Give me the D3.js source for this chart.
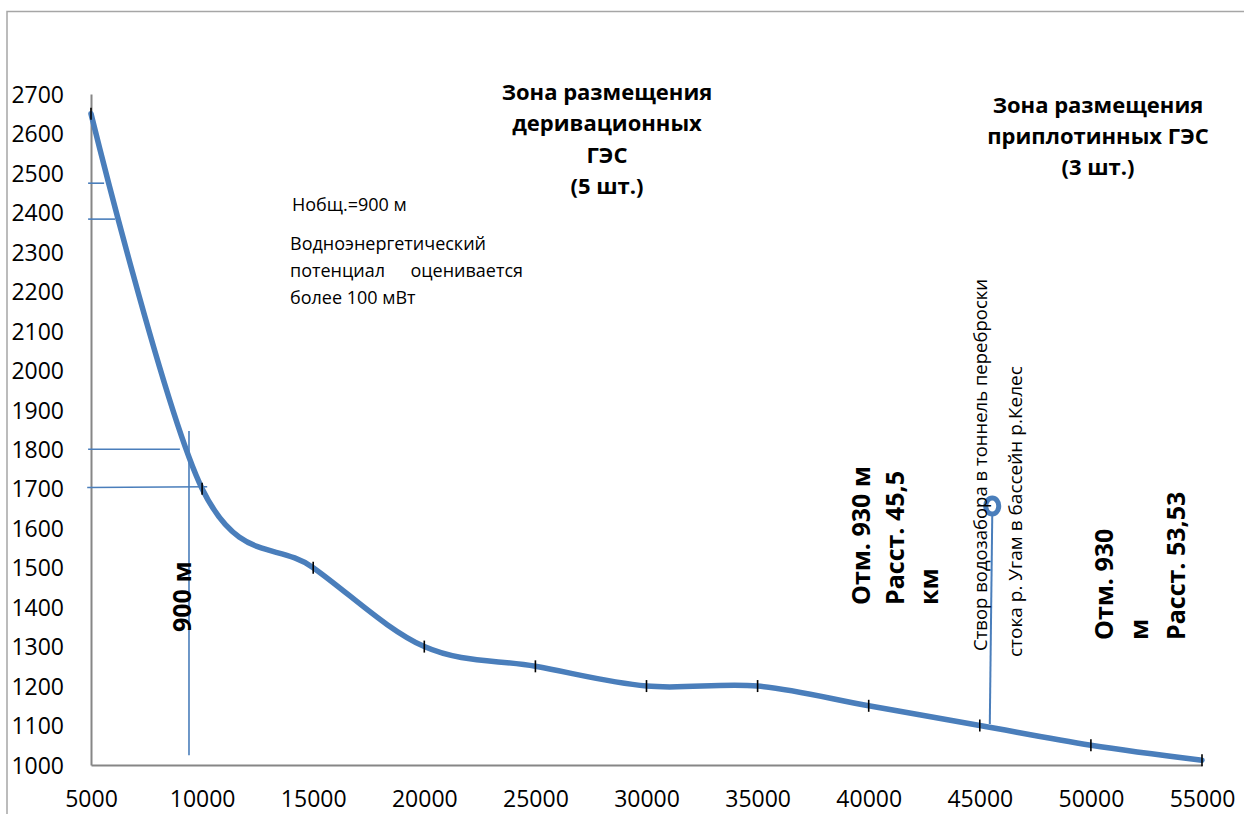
<!DOCTYPE html>
<html>
<head>
<meta charset="utf-8">
<script src="https://cdn.jsdelivr.net/npm/d3@7"></script>
<style>
  html, body { margin: 0; padding: 0; background: #fff; }
  svg { display: block; }
  text { font-family: "Open Sans", "Noto Sans", sans-serif; fill: #000; }
</style>
</head>
<body>
<svg id="chart" width="1244" height="814"></svg>
<script>
// Longitudinal river profile: distance (m) vs elevation (m)
const distance  = [5000, 10000, 15000, 20000, 25000, 30000, 35000, 40000, 45000, 50000, 55000];
const elevation = [2650, 1700, 1500, 1300, 1250, 1200, 1200, 1150, 1100, 1050, 1012];

const xTicks = [5000, 10000, 15000, 20000, 25000, 30000, 35000, 40000, 45000, 50000, 55000];
const yTicks = [1000, 1100, 1200, 1300, 1400, 1500, 1600, 1700, 1800, 1900, 2000,
                2100, 2200, 2300, 2400, 2500, 2600, 2700];

// Head lines: [x1, y1, x2, y2] in data units
const headLines = [
  [4870, 2474, 5590, 2474],
  [4870, 2383, 6080, 2383],
  [4870, 1800, 9000, 1800],
  [4830, 1703, 10230, 1705],
  [9410, 1846, 9410, 1025]
];
// Water intake site (tunnel diversion): marker position and stem end
const intake = { x: 45560, y: 1656, baseX: 45450, baseY: 1104 };

const zoneDerivation = ["Зона размещения", "деривационных", "ГЭС", "(5 шт.)"];
const zoneDam = ["Зона размещения", "приплотинных ГЭС", "(3 шт.)"];
const headLabel = "Нобщ.=900 м";
const potentialLines = ["Водноэнергетический", "более 100 мВт"];
const potentialWords = ["потенциал", "оценивается"];
const markA = ["Отм. 930 м", "Расст. 45,5", "км"];
const markB = ["Отм. 930", "м", "Расст. 53,53"];
const intakeText = ["Створ водозабора в тоннель переброски", "стока р. Угам в бассейн р.Келес"];
const dropLabel = "900 м";

const blue = "#4a7ebb";
const svg = d3.select("#chart");

const x = d3.scaleLinear().domain([5000, 55000]).range([91, 1202]);
const y = d3.scaleLinear().domain([1000, 2700]).range([765, 94]);

// outer chart frame
svg.append("path")
  .attr("d", "M7,814 V11.5 H1244")
  .attr("fill", "none").attr("stroke", "#a6a6a6").attr("stroke-width", 1.5);

// axes
const xAxis = d3.axisBottom(x).tickValues(xTicks).tickSize(0).tickPadding(0).tickFormat(d3.format("d"));
const gx = svg.append("g").attr("transform", `translate(0,${y(1000)})`).call(xAxis);
gx.select(".domain").attr("stroke", "#868686").attr("stroke-width", 2);
gx.selectAll(".tick text").attr("y", 42).attr("dy", 0)
  .style("font-size", "23px").style("font-family", "'Open Sans', sans-serif");

const yAxis = d3.axisLeft(y).tickValues(yTicks).tickSize(0).tickPadding(0).tickFormat(d3.format("d"));
const gy = svg.append("g").attr("transform", `translate(${x(5000)},0)`).call(yAxis);
gy.select(".domain").attr("stroke", "#868686").attr("stroke-width", 2);
gy.selectAll(".tick text").attr("x", -27).attr("dy", "0.36em")
  .style("font-size", "23px").style("font-family", "'Open Sans', sans-serif");

// head reference lines
svg.append("g").selectAll("line").data(headLines).join("line")
  .attr("x1", d => x(d[0])).attr("y1", d => y(d[1]))
  .attr("x2", d => x(d[2])).attr("y2", d => y(d[3]))
  .attr("stroke", blue).attr("stroke-width", 1.6);

// profile curve
const pts = distance.map((d, i) => [d, elevation[i]]);
svg.append("path")
  .datum(pts)
  .attr("d", d3.line().x(d => x(d[0])).y(d => y(d[1])).curve(d3.curveCatmullRom.alpha(0)))
  .attr("fill", "none").attr("stroke", blue).attr("stroke-width", 5.5).attr("stroke-linecap", "round");

// point markers
svg.append("g").selectAll("line").data(pts).join("line")
  .attr("x1", d => x(d[0])).attr("x2", d => x(d[0]))
  .attr("y1", d => y(d[1]) - 6).attr("y2", d => y(d[1]) + 6)
  .attr("stroke", "#000").attr("stroke-width", 1.6);

// intake marker
svg.append("line")
  .attr("x1", x(intake.x)).attr("y1", y(intake.y) + 10)
  .attr("x2", x(intake.baseX)).attr("y2", y(intake.baseY))
  .attr("stroke", blue).attr("stroke-width", 2);
svg.append("ellipse")
  .attr("cx", x(intake.x)).attr("cy", y(intake.y))
  .attr("rx", 6.5).attr("ry", 8)
  .attr("fill", "#fff").attr("stroke", blue).attr("stroke-width", 5);

// zone titles
function block(lines, cx, y0, step) {
  const t = svg.append("text").attr("text-anchor", "middle")
    .style("font-size", "22px").style("font-weight", "bold");
  lines.forEach((s, i) => t.append("tspan").attr("x", cx).attr("y", y0 + i * step).text(s));
}
block(zoneDerivation, 607, 100, 31.3);
block(zoneDam, 1098, 113, 31);

// head and potential notes
svg.append("text").attr("x", 292).attr("y", 211).style("font-size", "18px").text(headLabel);
svg.append("text").attr("x", 290).attr("y", 250).style("font-size", "18px").text(potentialLines[0]);
svg.append("text").attr("x", 290).attr("y", 277).style("font-size", "18px").text(potentialWords[0]);
svg.append("text").attr("x", 523).attr("y", 277).attr("text-anchor", "end").style("font-size", "18px").text(potentialWords[1]);
svg.append("text").attr("x", 290).attr("y", 304).style("font-size", "18px").text(potentialLines[1]);

// vertical labels
function vtext(s, bx, by, size, bold) {
  svg.append("text")
    .attr("transform", `translate(${bx},${by}) rotate(-90)`)
    .style("font-size", size + "px").style("font-weight", bold ? "bold" : "normal")
    .text(s);
}
vtext(dropLabel, 191, 632, 25, true);
[870, 904, 938].forEach((bx, i) => vtext(markA[i], bx, 605, 25, true));
[1113, 1148, 1185].forEach((bx, i) => vtext(markB[i], bx, 640, 25, true));
vtext(intakeText[0], 987, 651, 18.5, false);
vtext(intakeText[1], 1022, 657, 19, false);
</script>
</body>
</html>
